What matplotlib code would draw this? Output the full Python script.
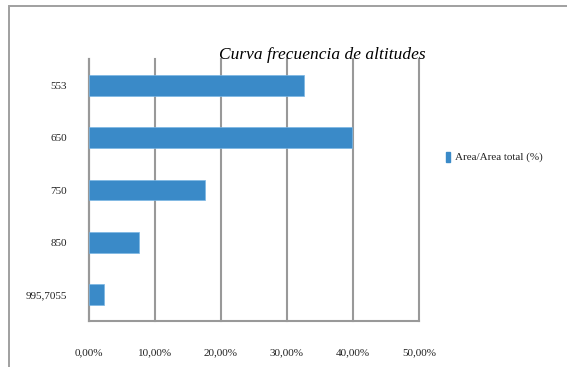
import matplotlib
matplotlib.use("Agg")
import matplotlib.pyplot as plt
from matplotlib.patches import Rectangle
from matplotlib.ticker import FuncFormatter

categories = ["553", "650", "750", "850", "995,7055"]
values = [32.6, 39.8, 17.6, 7.6, 2.3]
x_ticks = [0, 10, 20, 30, 40, 50]
title = "Curva frecuencia de altitudes"
series_name = "Area/Area total (%)"

W, H = 567, 367
fig = plt.figure(figsize=(W / 100, H / 100), dpi=100)
fig.patch.set_facecolor("white")

# outer chart-area frame (runs off the right and bottom edges)
frame = Rectangle((8.5 / W, -0.1), 1.2, (H - 5.5) / H + 0.1,
                  transform=fig.transFigure, fill=False,
                  edgecolor="#a0a0a0", linewidth=1.4)
fig.patches.append(frame)

ax = fig.add_axes([89 / W, 1 - 321 / H, 330 / W, 262 / H])
bar_color = "#3a8ac8"
ypos = list(range(len(categories)))
ax.barh(ypos, values, height=0.4, color=bar_color,
        edgecolor="#7ab6e4", linewidth=0.5, zorder=3)
ax.set_ylim(len(categories) - 0.5, -0.5)
ax.set_xlim(0, 50)

ax.set_yticks(ypos)
ax.set_yticklabels(categories, fontsize=8, family="Liberation Serif", color="#222222")
ax.set_xticks(x_ticks)
ax.xaxis.set_major_formatter(FuncFormatter(lambda v, p: f"{v:.2f}%".replace(".", ",")))
for lbl in ax.get_xticklabels():
    lbl.set_fontsize(8)
    lbl.set_family("Liberation Serif")
    lbl.set_color("#222222")
ax.tick_params(axis="both", length=0)
ax.tick_params(axis="x", pad=20)
ax.tick_params(axis="y", pad=16)

grid_color = "#999999"
ax.grid(axis="x", color=grid_color, linewidth=1.5, zorder=1)
for gl in ax.get_xgridlines():
    gl.set_clip_on(False)
for side in ["top", "right"]:
    ax.spines[side].set_visible(False)
for side in ["left", "bottom"]:
    ax.spines[side].set_color(grid_color)
    ax.spines[side].set_linewidth(1.5)

fig.text(322 / W, 1 - 55 / H, title, ha="center", va="center",
         fontsize=12.5, family="Liberation Serif", style="italic",
         color="#000000")

# legend entry
fig.patches.append(Rectangle((446 / W, 1 - 162 / H), 4 / W, 10 / H,
                             transform=fig.transFigure, color=bar_color))
fig.text(455 / W, 1 - 157 / H, series_name, ha="left", va="center",
         fontsize=8, family="Liberation Serif", color="#222222")

fig.savefig("out.png", dpi=100)
